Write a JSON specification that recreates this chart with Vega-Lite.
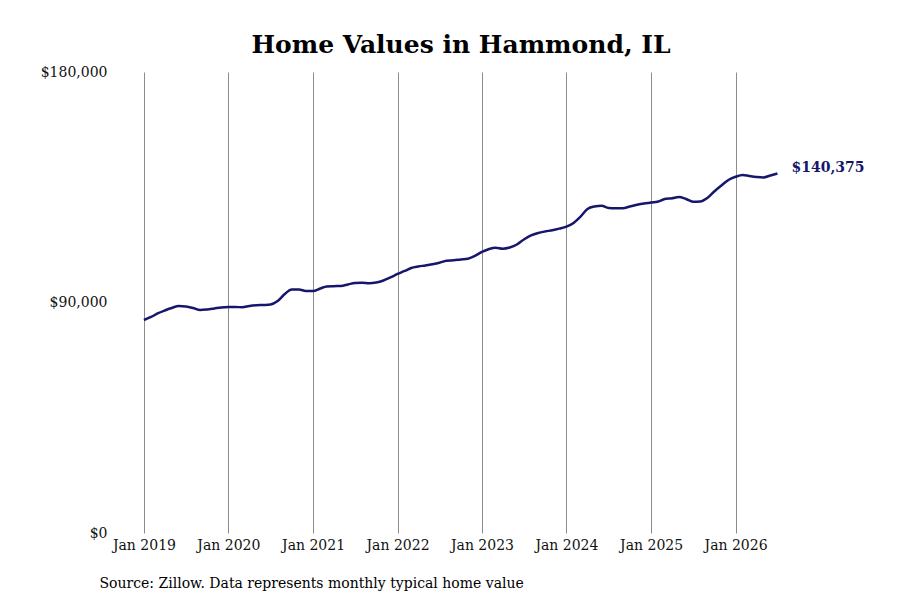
{
  "$schema": "https://vega.github.io/schema/vega-lite/v6.json",
  "description": "Home values in Hammond, IL, monthly typical home value.",
  "width": 674,
  "height": 461,
  "autosize": "none",
  "padding": {"left": 115, "top": 72, "right": 111, "bottom": 67},
  "background": "white",
  "config": {
    "view": {"stroke": null},
    "font": "DejaVu Serif"
  },
  "title": {
    "text": "Home Values in Hammond, IL",
    "font": "DejaVu Serif",
    "fontSize": 25,
    "fontWeight": "bold",
    "color": "#000000",
    "anchor": "middle",
    "dx": 9,
    "offset": 7
  },
  "data": {
    "values": [
      {"date": "2019-01-01", "value": 83180},
      {"date": "2019-02-01", "value": 84350},
      {"date": "2019-03-01", "value": 85720},
      {"date": "2019-04-01", "value": 86890},
      {"date": "2019-05-01", "value": 87860},
      {"date": "2019-06-01", "value": 88640},
      {"date": "2019-07-01", "value": 88450},
      {"date": "2019-08-01", "value": 87860},
      {"date": "2019-09-01", "value": 87080},
      {"date": "2019-10-01", "value": 87280},
      {"date": "2019-11-01", "value": 87670},
      {"date": "2019-12-01", "value": 88060},
      {"date": "2020-01-01", "value": 88250},
      {"date": "2020-02-01", "value": 88250},
      {"date": "2020-03-01", "value": 88140},
      {"date": "2020-04-01", "value": 88640},
      {"date": "2020-05-01", "value": 88920},
      {"date": "2020-06-01", "value": 89030},
      {"date": "2020-07-01", "value": 89230},
      {"date": "2020-08-01", "value": 90600},
      {"date": "2020-09-01", "value": 93330},
      {"date": "2020-10-01", "value": 95080},
      {"date": "2020-11-01", "value": 95080},
      {"date": "2020-12-01", "value": 94500},
      {"date": "2021-01-01", "value": 94500},
      {"date": "2021-02-01", "value": 95470},
      {"date": "2021-03-01", "value": 96260},
      {"date": "2021-04-01", "value": 96380},
      {"date": "2021-05-01", "value": 96460},
      {"date": "2021-06-01", "value": 97040},
      {"date": "2021-07-01", "value": 97630},
      {"date": "2021-08-01", "value": 97740},
      {"date": "2021-09-01", "value": 97510},
      {"date": "2021-10-01", "value": 97820},
      {"date": "2021-11-01", "value": 98600},
      {"date": "2021-12-01", "value": 99770},
      {"date": "2022-01-01", "value": 101140},
      {"date": "2022-02-01", "value": 102310},
      {"date": "2022-03-01", "value": 103480},
      {"date": "2022-04-01", "value": 104070},
      {"date": "2022-05-01", "value": 104460},
      {"date": "2022-06-01", "value": 104930},
      {"date": "2022-07-01", "value": 105510},
      {"date": "2022-08-01", "value": 106330},
      {"date": "2022-09-01", "value": 106490},
      {"date": "2022-10-01", "value": 106800},
      {"date": "2022-11-01", "value": 107080},
      {"date": "2022-12-01", "value": 108170},
      {"date": "2023-01-01", "value": 109730},
      {"date": "2023-02-01", "value": 110900},
      {"date": "2023-03-01", "value": 111410},
      {"date": "2023-04-01", "value": 111020},
      {"date": "2023-05-01", "value": 111490},
      {"date": "2023-06-01", "value": 112660},
      {"date": "2023-07-01", "value": 114610},
      {"date": "2023-08-01", "value": 116180},
      {"date": "2023-09-01", "value": 117150},
      {"date": "2023-10-01", "value": 117740},
      {"date": "2023-11-01", "value": 118210},
      {"date": "2023-12-01", "value": 118830},
      {"date": "2024-01-01", "value": 119610},
      {"date": "2024-02-01", "value": 121060},
      {"date": "2024-03-01", "value": 123400},
      {"date": "2024-04-01", "value": 126520},
      {"date": "2024-05-01", "value": 127500},
      {"date": "2024-06-01", "value": 127770},
      {"date": "2024-07-01", "value": 126910},
      {"date": "2024-08-01", "value": 126790},
      {"date": "2024-09-01", "value": 126790},
      {"date": "2024-10-01", "value": 127500},
      {"date": "2024-11-01", "value": 128160},
      {"date": "2024-12-01", "value": 128670},
      {"date": "2025-01-01", "value": 129020},
      {"date": "2025-02-01", "value": 129410},
      {"date": "2025-03-01", "value": 130430},
      {"date": "2025-04-01", "value": 130700},
      {"date": "2025-05-01", "value": 131210},
      {"date": "2025-06-01", "value": 130430},
      {"date": "2025-07-01", "value": 129330},
      {"date": "2025-08-01", "value": 129450},
      {"date": "2025-09-01", "value": 130820},
      {"date": "2025-10-01", "value": 133360},
      {"date": "2025-11-01", "value": 135700},
      {"date": "2025-12-01", "value": 137850},
      {"date": "2026-01-01", "value": 139100},
      {"date": "2026-02-01", "value": 139800},
      {"date": "2026-03-01", "value": 139410},
      {"date": "2026-04-01", "value": 139020},
      {"date": "2026-05-01", "value": 138820},
      {"date": "2026-06-01", "value": 139600},
      {"date": "2026-07-01", "value": 140375}
    ]
  },
  "encoding": {
    "x": {
      "field": "date",
      "type": "temporal",
      "scale": {"type": "utc", "domain": ["2018-08-29", "2026-08-20"]},
      "axis": {
        "values": [
          {"year": 2019, "month": 1, "date": 1, "utc": true},
          {"year": 2020, "month": 1, "date": 1, "utc": true},
          {"year": 2021, "month": 1, "date": 1, "utc": true},
          {"year": 2022, "month": 1, "date": 1, "utc": true},
          {"year": 2023, "month": 1, "date": 1, "utc": true},
          {"year": 2024, "month": 1, "date": 1, "utc": true},
          {"year": 2025, "month": 1, "date": 1, "utc": true},
          {"year": 2026, "month": 1, "date": 1, "utc": true}
        ],
        "labelExpr": "utcFormat(datum.value, '%b %Y')",
        "grid": true,
        "gridColor": "#8c8c8c",
        "gridWidth": 1,
        "gridOpacity": 1,
        "ticks": false,
        "domain": false,
        "labelFont": "DejaVu Serif",
        "labelFontSize": 14,
        "labelColor": "#111111",
        "labelPadding": 5,
        "labelFlush": false,
        "title": "Source: Zillow. Data represents monthly typical home value",
        "titleFont": "DejaVu Serif",
        "titleFontSize": 14,
        "titleFontWeight": "normal",
        "titleColor": "#000000",
        "titleAnchor": "start",
        "titleAlign": "left",
        "titleBaseline": "alphabetic",
        "titleX": -16,
        "titleY": 54
      }
    },
    "y": {
      "field": "value",
      "type": "quantitative",
      "scale": {"domain": [0, 180000], "nice": false},
      "axis": {
        "values": [0, 90000, 180000],
        "format": "$,.0f",
        "grid": false,
        "ticks": false,
        "domain": false,
        "labelFont": "DejaVu Serif",
        "labelFontSize": 14,
        "labelColor": "#111111",
        "labelPadding": 8,
        "title": null
      }
    }
  },
  "layer": [
    {
      "mark": {"type": "line", "color": "#16166b", "strokeWidth": 2.5, "interpolate": "monotone"}
    },
    {
      "transform": [{"filter": "datum.value == 140375"}],
      "mark": {
        "type": "text",
        "align": "left",
        "baseline": "middle",
        "dx": 14,
        "dy": -5,
        "font": "DejaVu Serif",
        "fontSize": 14,
        "fontWeight": "bold",
        "color": "#16166b"
      },
      "encoding": {
        "text": {"field": "value", "type": "quantitative", "format": "$,.0f"}
      }
    }
  ]
}
